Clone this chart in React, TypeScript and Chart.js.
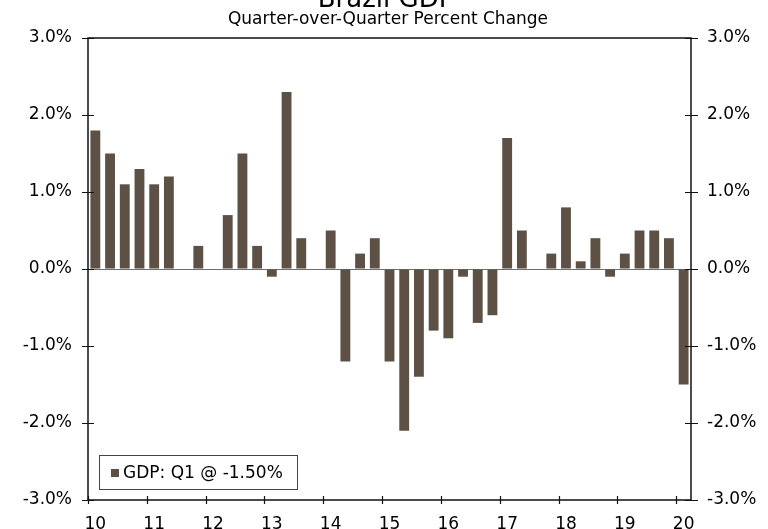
import React, { useEffect, useRef } from 'react';
import { Chart, registerables } from 'chart.js';

Chart.register(...registerables);

const TITLE = 'Brazil GDP';
const SUBTITLE = 'Quarter-over-Quarter Percent Change';
const YEAR_LABELS = ['10', '11', '12', '13', '14', '15', '16', '17', '18', '19', '20'];
const QUARTER_NAMES = ['Q1', 'Q2', 'Q3', 'Q4'];
// 2010 Q1 .. 2020 Q1, quarter-over-quarter % change
const GDP_QOQ = [
  1.8, 1.5, 1.1, 1.3,
  1.1, 1.2, 0.0, 0.3,
  0.0, 0.7, 1.5, 0.3,
  -0.1, 2.3, 0.4, 0.0,
  0.5, -1.2, 0.2, 0.4,
  -1.2, -2.1, -1.4, -0.8,
  -0.9, -0.1, -0.7, -0.6,
  1.7, 0.5, 0.0, 0.2,
  0.8, 0.1, 0.4, -0.1,
  0.2, 0.5, 0.5, 0.4,
  -1.5,
];
const Y_MIN = -3;
const Y_MAX = 3;
const Y_STEP = 1;
const LEGEND_LABEL = 'GDP: Q1 @ -1.50%';

const CATEGORIES: string[] = GDP_QOQ.map(
  (_, i) => `${YEAR_LABELS[Math.floor(i / 4)]} ${QUARTER_NAMES[i % 4]}`
);

const FONT = 'DejaVu Sans, Verdana, sans-serif';
const BAR_COLOR = '#5d5145';
const AXIS_COLOR = '#111111';

const framePlugin = {
  id: 'frameAndText',
  afterDraw(chart: any) {
    const { ctx, chartArea } = chart;
    const { left, right, top, bottom } = chartArea;
    const y = chart.scales.y;
    const x = chart.scales.x;
    ctx.save();
    // frame
    ctx.strokeStyle = AXIS_COLOR;
    ctx.lineWidth = 1.5;
    ctx.strokeRect(left, top, right - left, bottom - top);
    // y tick marks (crossing both axes)
    ctx.lineWidth = 1.2;
    for (let v = Y_MIN; v <= Y_MAX; v += Y_STEP) {
      const py = Math.round(y.getPixelForValue(v)) + 0.5;
      ctx.beginPath();
      ctx.moveTo(left - 6, py);
      ctx.lineTo(left + 6, py);
      ctx.moveTo(right - 6, py);
      ctx.lineTo(right + 7, py);
      ctx.stroke();
    }
    // x tick marks at year boundaries
    const n = CATEGORIES.length;
    const half = (right - left) / n / 2;
    for (let i = 0; i < n; i += 4) {
      const px = Math.round(x.getPixelForValue(i) - half) + 0.5;
      ctx.beginPath();
      ctx.moveTo(px, bottom - 4);
      ctx.lineTo(px, bottom + 4);
      ctx.stroke();
    }
    // titles
    ctx.fillStyle = '#000';
    ctx.textAlign = 'center';
    ctx.textBaseline = 'alphabetic';
    ctx.font = `26px ${FONT}`;
    ctx.fillText(TITLE, 386, 7);
    ctx.font = `17px ${FONT}`;
    ctx.fillText(SUBTITLE, 388, 24);
    // legend box
    const bx = 99.5, by = 455.5, bw = 198, bh = 34;
    ctx.fillStyle = '#ffffff';
    ctx.fillRect(bx, by, bw, bh);
    ctx.strokeStyle = '#444444';
    ctx.lineWidth = 1;
    ctx.strokeRect(bx, by, bw, bh);
    ctx.fillStyle = BAR_COLOR;
    ctx.fillRect(111, 469, 8, 8);
    ctx.fillStyle = '#000';
    ctx.textAlign = 'left';
    ctx.font = `17px ${FONT}`;
    ctx.fillText(chart.data.datasets[0].label, 123, 478);
    ctx.restore();
  },
};

const tickFont = { family: FONT, size: 17 };
const pct = (v: any) => `${Number(v).toFixed(1)}%`;

export default function App() {
  const canvasRef = useRef<HTMLCanvasElement | null>(null);

  useEffect(() => {
    if (!canvasRef.current) return;
    const chart = new Chart(canvasRef.current, {
      type: 'bar',
      data: {
        labels: CATEGORIES,
        datasets: [
          {
            label: LEGEND_LABEL,
            data: GDP_QOQ,
            backgroundColor: BAR_COLOR,
            borderWidth: 0,
            categoryPercentage: 1,
            barPercentage: 0.67,
          },
        ],
      },
      options: {
        animation: false,
        responsive: false,
        layout: { padding: { top: 38, left: 0, right: 0, bottom: 0 } },
        plugins: {
          legend: { display: false },
          title: { display: false },
          tooltip: { enabled: false },
        },
        scales: {
          x: {
            type: 'category',
            offset: true,
            grid: { display: false },
            border: { display: false },
            ticks: {
              autoSkip: false,
              maxRotation: 0,
              minRotation: 0,
              padding: 6,
              color: '#000',
              font: tickFont,
              callback: (_v: any, i: number) => (i % 4 === 0 ? YEAR_LABELS[i / 4] : ''),
            },
            afterFit: (s: any) => {
              s.height = 29;
            },
          },
          y: {
            position: 'left',
            min: Y_MIN,
            max: Y_MAX,
            ticks: { stepSize: Y_STEP, padding: 16, color: '#000', font: tickFont, callback: pct },
            grid: {
              drawTicks: false,
              lineWidth: 1,
              color: (c: any) => (c.tick && c.tick.value === 0 ? '#6e6e6e' : 'rgba(0,0,0,0)'),
            },
            border: { display: false },
            afterFit: (s: any) => {
              s.width = 88;
            },
          },
          y2: {
            position: 'right',
            min: Y_MIN,
            max: Y_MAX,
            ticks: { stepSize: Y_STEP, padding: 16, color: '#000', font: tickFont, callback: pct },
            grid: { display: false, drawTicks: false },
            border: { display: false },
            afterFit: (s: any) => {
              s.width = 77;
            },
          },
        },
      } as any,
      plugins: [framePlugin],
    });
    return () => chart.destroy();
  }, []);

  return (
    <div style={{ position: 'absolute', left: 0, top: 0, width: 768, height: 529, background: '#fff' }}>
      <canvas ref={canvasRef} width={768} height={529} style={{ width: 768, height: 529 }} />
    </div>
  );
}
